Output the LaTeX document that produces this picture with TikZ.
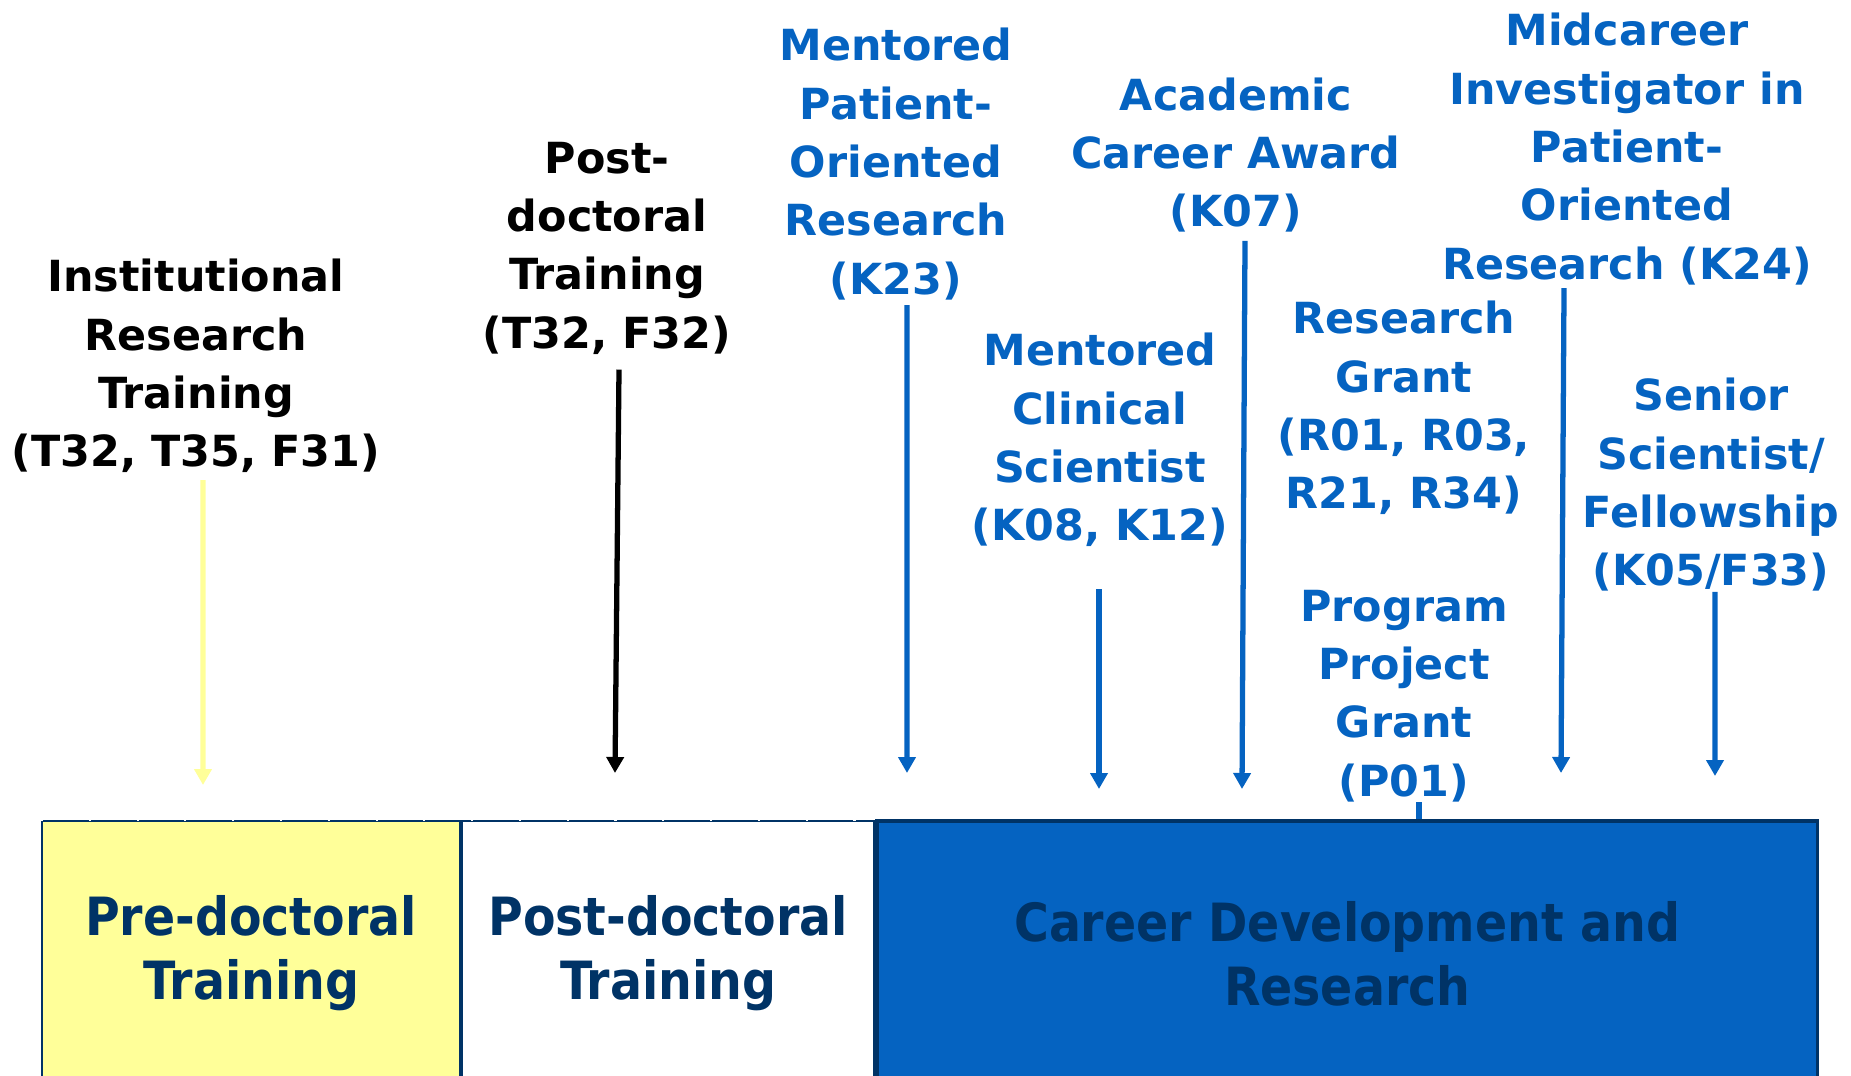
\documentclass[tikz,border=0pt]{standalone}
\usepackage{fontspec}
\setmainfont{DejaVu Sans}
\newfontfamily\stagefont{DejaVu Sans Condensed}
\usetikzlibrary{positioning, arrows.meta}
\definecolor{nihblue}{RGB}{5,99,193}
\definecolor{navy}{RGB}{0,51,102}
\definecolor{paleyellow}{RGB}{255,255,153}
\tikzstyle{award} = [align=center, inner sep=0pt, text=nihblue, font=\fontsize{24.4}{33.2}\selectfont\bfseries]
\tikzstyle{training} = [award, text=black]
\tikzstyle{stage} = [rectangle, draw=navy, line width=1.2pt, minimum height=5.3cm, inner sep=0pt, align=center, text=navy, font=\stagefont\fontsize{30}{36.3}\selectfont\bfseries]
\tikzstyle{arrow} = [line width=3pt, draw=nihblue, -{Triangle[width=0.34cm, length=0.32cm]}]
\tikzstyle{link} = [line width=3pt, draw=nihblue]
\tikzstyle{topedge} = [draw=white, line width=1.4pt, dash pattern=on 1.2pt off 26pt]

\begin{document}
\begin{tikzpicture}[x=0.02cm, y=-0.02cm]
  \useasboundingbox (0,0) rectangle (1851,1075);

  % Career stages (bottom row)
  \node (pre) [stage, fill=paleyellow, minimum width=8.36cm, anchor=north west] at (41,820) {Pre-doctoral\\Training};
  \node (post) [stage, fill=white, minimum width=8.24cm, right=0pt of pre] {Post-doctoral\\Training};
  \node (career) [stage, fill=nihblue, line width=2pt, minimum width=18.82cm, right=0pt of post] {Career Development and\\Research};
  \draw[topedge] (pre.north west) -- (post.north east);

  % Training awards
  \node (inst) [training] at (196,366) {Institutional\\Research\\Training\\(T32, T35, F31)};
  \node (postdoc) [training] at (607,248) {Post-\\doctoral\\Training\\(T32, F32)};

  % Career and research awards
  \node (k23) [award] at (896,164) {Mentored\\Patient-\\Oriented\\Research\\(K23)};
  \node (k08) [award] at (1100,440) {Mentored\\Clinical\\Scientist\\(K08, K12)};
  \node (k07) [award] at (1236,155) {Academic\\Career Award\\(K07)};
  \node (r01) [award] at (1404,408) {Research\\Grant\\(R01, R03,\\R21, R34)};
  \node (p01) [award] at (1404,696) {Program\\Project\\Grant\\(P01)};
  \node (k24) [award] at (1627,149) {Midcareer\\Investigator in\\Patient-\\Oriented\\Research (K24)};
  \node (k05) [award] at (1711,485) {Senior\\Scientist/\\Fellowship\\(K05/F33)};

  % Arrow tips
  \coordinate (inst_tip) at (203,785);
  \coordinate (postdoc_tip) at (615,773);
  \coordinate (k23_tip) at (907,773);
  \coordinate (k08_tip) at (1099,789);
  \coordinate (k07_tip) at (1242,789);
  \coordinate (k24_tip) at (1561,773);
  \coordinate (k05_tip) at (1715,776);

  % Arrows
  \draw[arrow, draw=paleyellow] ([xshift=0.14cm, yshift=-0.14cm]inst.south) -- (inst_tip);
  \draw[arrow, draw=black] ([xshift=0.24cm, yshift=-0.3cm]postdoc.south) -- (postdoc_tip);
  \draw[arrow] ([xshift=0.22cm, yshift=-0.1cm]k23.south) -- (k23_tip);
  \draw[arrow] ([xshift=-0.02cm, yshift=-0.84cm]k08.south) -- (k08_tip);
  \draw[arrow] ([xshift=0.18cm, yshift=-0.16cm]k07.south) -- (k07_tip);
  \draw[arrow] ([xshift=-1.26cm, yshift=-0.06cm]k24.south) -- (k24_tip);
  \draw[arrow] ([xshift=0.08cm, yshift=0cm]k05.south) -- (k05_tip);
  \draw[link] ([xshift=0.3cm, yshift=0cm]p01.south) coordinate (p01_foot) -- (p01_foot |- career.north);

\end{tikzpicture}
\end{document}
